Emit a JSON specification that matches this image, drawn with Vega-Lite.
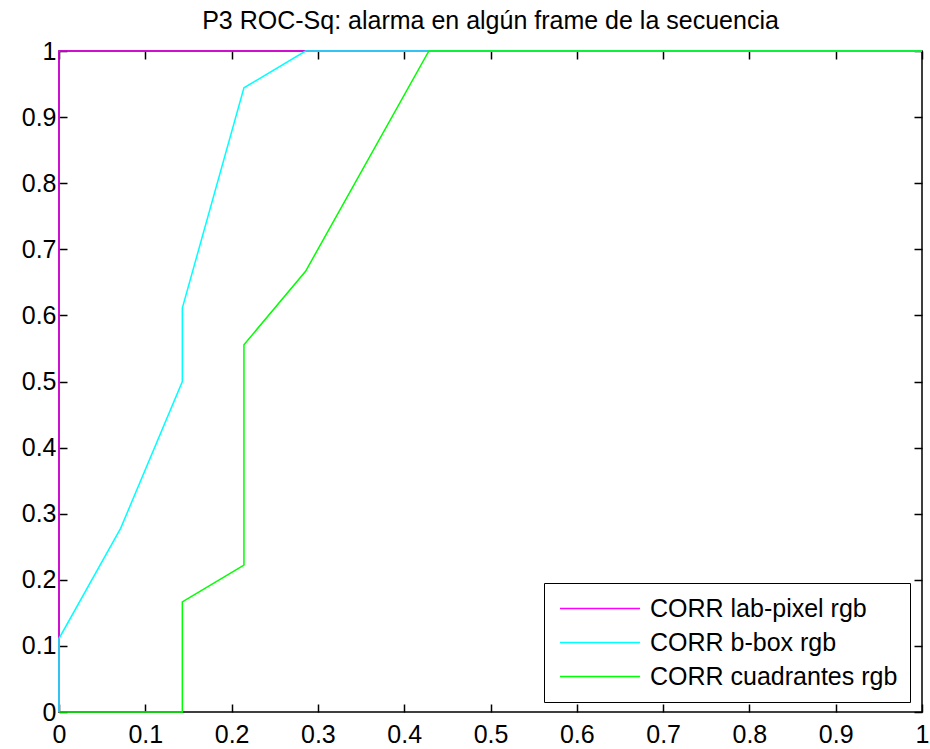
{
  "$schema": "https://vega.github.io/schema/vega-lite/v6.json",
  "autosize": "none",
  "width": 863,
  "height": 661,
  "padding": {"left": 59, "top": 51, "right": 8, "bottom": 37},
  "background": "white",
  "title": {"text": "P3 ROC-Sq: alarma en algún frame de la secuencia", "font": "Liberation Sans", "fontSize": 25, "fontWeight": "normal", "color": "#000000", "anchor": "middle", "offset": 5},
  "config": {
    "view": {"stroke": "#000000", "strokeWidth": 1.5},
    "axis": {"grid": false, "domain": false, "tickColor": "#000000", "tickSize": -8, "tickWidth": 1.5, "labelFont": "Liberation Sans", "labelFontSize": 25, "labelColor": "#000000", "labelFlush": false, "labelOverlap": false, "titleFontSize": 0}
  },
  "data": {"values": [
    {"s": "CORR lab-pixel rgb", "i": 0, "x": 0, "y": 0},
    {"s": "CORR lab-pixel rgb", "i": 1, "x": 0, "y": 1},
    {"s": "CORR lab-pixel rgb", "i": 2, "x": 1, "y": 1},
    {"s": "CORR b-box rgb", "i": 0, "x": 0, "y": 0},
    {"s": "CORR b-box rgb", "i": 1, "x": 0, "y": 0.1111},
    {"s": "CORR b-box rgb", "i": 2, "x": 0.0714, "y": 0.2778},
    {"s": "CORR b-box rgb", "i": 3, "x": 0.1429, "y": 0.5},
    {"s": "CORR b-box rgb", "i": 4, "x": 0.1429, "y": 0.6111},
    {"s": "CORR b-box rgb", "i": 5, "x": 0.2143, "y": 0.9444},
    {"s": "CORR b-box rgb", "i": 6, "x": 0.2857, "y": 1},
    {"s": "CORR b-box rgb", "i": 7, "x": 1, "y": 1},
    {"s": "CORR cuadrantes rgb", "i": 0, "x": 0, "y": 0},
    {"s": "CORR cuadrantes rgb", "i": 1, "x": 0.1429, "y": 0},
    {"s": "CORR cuadrantes rgb", "i": 2, "x": 0.1429, "y": 0.1667},
    {"s": "CORR cuadrantes rgb", "i": 3, "x": 0.2143, "y": 0.2222},
    {"s": "CORR cuadrantes rgb", "i": 4, "x": 0.2143, "y": 0.5556},
    {"s": "CORR cuadrantes rgb", "i": 5, "x": 0.2857, "y": 0.6667},
    {"s": "CORR cuadrantes rgb", "i": 6, "x": 0.4286, "y": 1},
    {"s": "CORR cuadrantes rgb", "i": 7, "x": 1, "y": 1}
  ]},
  "resolve": {"axis": {"x": "independent", "y": "independent"}},
  "layer": [
    {
      "mark": {"type": "line", "strokeOpacity": 0},
      "encoding": {
        "x": {"field": "x", "type": "quantitative", "scale": {"domain": [0, 1], "nice": false}, "axis": {"orient": "top", "labels": false, "values": [0,0.1,0.2,0.3,0.4,0.5,0.6,0.7,0.8,0.9,1], "title": null}},
        "y": {"field": "y", "type": "quantitative", "scale": {"domain": [0, 1], "nice": false}, "axis": {"orient": "right", "labels": false, "values": [0,0.1,0.2,0.3,0.4,0.5,0.6,0.7,0.8,0.9,1], "title": null}},
        "detail": {"field": "s"}
      }
    },
    {
      "transform": [{"filter": "datum.s === 'CORR lab-pixel rgb'"}],
      "mark": {"type": "line", "strokeWidth": 1.5},
      "encoding": {
        "x": {"field": "x", "type": "quantitative", "scale": {"domain": [0, 1], "nice": false}, "axis": {"orient": "bottom", "values": [0,0.1,0.2,0.3,0.4,0.5,0.6,0.7,0.8,0.9,1], "format": "~g", "labelPadding": 18, "title": null}},
        "y": {"field": "y", "type": "quantitative", "scale": {"domain": [0, 1], "nice": false}, "axis": {"orient": "left", "values": [0,0.1,0.2,0.3,0.4,0.5,0.6,0.7,0.8,0.9,1], "format": "~g", "labelPadding": 11, "title": null}},
        "order": {"field": "i"},
        "color": {"field": "s", "type": "nominal", "scale": {"domain": ["CORR lab-pixel rgb", "CORR b-box rgb", "CORR cuadrantes rgb"], "range": ["#ff00ff", "#00ffff", "#00ff00"]},
          "legend": {"title": null, "orient": "none", "legendX": 485, "legendY": 532, "strokeColor": "#000000", "fillColor": "#ffffff", "padding": 12, "symbolType": "M-0.76,0H5.64", "symbolSize": 625, "symbolStrokeWidth": 1.5, "labelFont": "Liberation Sans", "labelFontSize": 25, "labelColor": "#000000", "labelOffset": 67, "rowPadding": 7, "labelLimit": 400}}
      }
    },
    {
      "transform": [{"filter": "datum.s === 'CORR b-box rgb'"}],
      "mark": {"type": "line", "strokeWidth": 1.5},
      "encoding": {
        "x": {"field": "x", "type": "quantitative", "axis": null},
        "y": {"field": "y", "type": "quantitative", "axis": null},
        "order": {"field": "i"},
        "color": {"field": "s", "type": "nominal"}
      }
    },
    {
      "transform": [{"filter": "datum.s === 'CORR cuadrantes rgb'"}],
      "mark": {"type": "line", "strokeWidth": 1.5},
      "encoding": {
        "x": {"field": "x", "type": "quantitative", "axis": null},
        "y": {"field": "y", "type": "quantitative", "axis": null},
        "order": {"field": "i"},
        "color": {"field": "s", "type": "nominal"}
      }
    }
  ]
}
